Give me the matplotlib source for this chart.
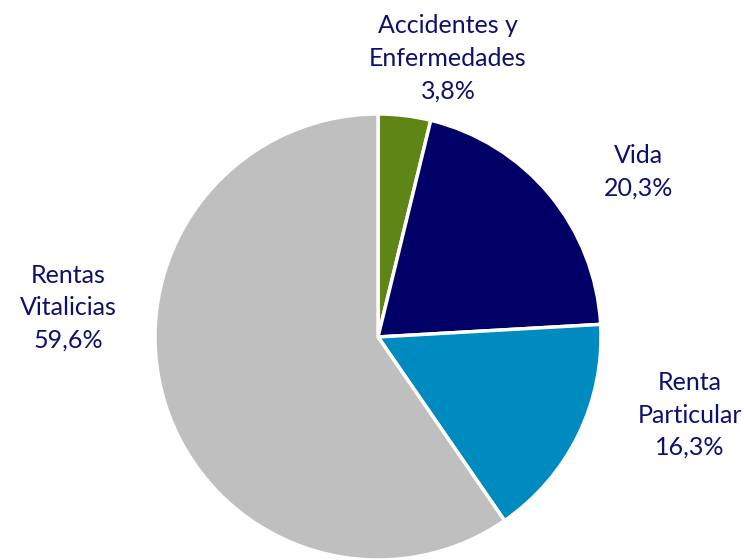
import matplotlib.pyplot as plt

# Data
categories = ["Accidentes y\nEnfermedades", "Vida", "Renta\nParticular", "Rentas\nVitalicias"]
shares = [3.8, 20.3, 16.3, 59.6]
colors = ["#5E8516", "#000066", "#008BC0", "#BFBFBF"]

# label anchor points (data units, pie radius = 1)
label_pos = [(0.314, 1.25), (1.166, 0.74), (1.399, -0.35), (-1.39, 0.13)]

text_color = "#0F0F6E"

fig = plt.figure(figsize=(7.44, 5.6), dpi=100)
ax = fig.add_axes([0, 0, 1, 1])

wedges, _ = ax.pie(shares, colors=colors, startangle=90, counterclock=False,
                   radius=1.0, wedgeprops=dict(edgecolor="white", linewidth=2.5))

# Labels
for name, share, (x, y) in zip(categories, shares, label_pos):
    txt = f"{name}\n{share:.1f}%".replace(".", ",")
    ax.text(x, y, txt, ha="center", va="center", fontsize=18,
            color=text_color, family="Lato", linespacing=1.5)

ax.set_xlim(-1.695, 1.641)
ax.set_ylim(-1.0, 1.511)
ax.set_aspect("auto")
ax.axis("off")

fig.savefig("out.png", dpi=100)
